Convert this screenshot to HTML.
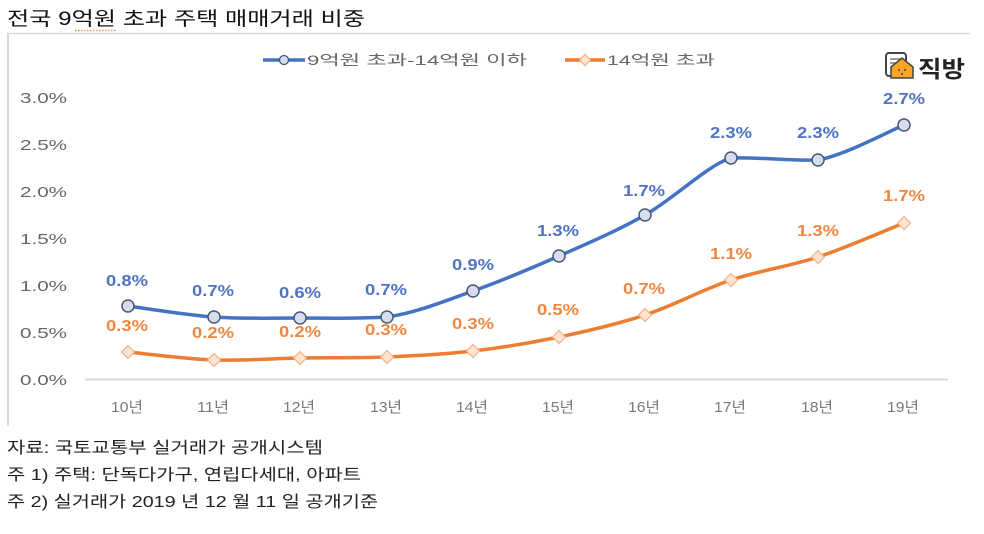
<!DOCTYPE html>
<html><head><meta charset="utf-8"><style>
html,body{margin:0;padding:0;background:#fff;}
svg{display:block;}
text{font-family:"Liberation Sans","Noto Sans CJK KR",sans-serif;}
</style></head><body>
<svg width="984" height="534" viewBox="0 0 984 534" xmlns="http://www.w3.org/2000/svg">
<rect width="984" height="534" fill="#fff"/>
<!-- title -->
<text x="7" y="25" font-size="19" fill="#111" textLength="358" lengthAdjust="spacingAndGlyphs">전국 9억원 초과 주택 매매거래 비중</text>
<line x1="75" y1="30.5" x2="117" y2="30.5" stroke="#e89a55" stroke-width="1.5" stroke-dasharray="1.5,1.5"/>
<!-- chart frame -->
<line x1="7" y1="33.5" x2="970" y2="33.5" stroke="#d9d9d9" stroke-width="1.5"/>
<line x1="8" y1="33" x2="8" y2="426" stroke="#d9d9d9" stroke-width="2"/>
<!-- legend -->
<line x1="263" y1="60" x2="305" y2="60" stroke="#4472c4" stroke-width="3.5"/>
<circle cx="284" cy="60" r="4.5" fill="#d6deee" stroke="#4a5873" stroke-width="1.3"/>
<text x="307" y="65" font-size="14" fill="#666" textLength="220" lengthAdjust="spacingAndGlyphs">9억원 초과-14억원 이하</text>
<line x1="565" y1="60" x2="605" y2="60" stroke="#ed7d31" stroke-width="3.5"/>
<polygon points="585,54.5 590.5,60 585,65.5 579.5,60" fill="#fde3d0" stroke="#f4b183" stroke-width="1.2"/>
<text x="607" y="65" font-size="14" fill="#666" textLength="108" lengthAdjust="spacingAndGlyphs">14억원 초과</text>
<!-- logo -->
<rect x="886" y="53" width="20" height="23" rx="3" fill="#fff" stroke="#444" stroke-width="2"/>
<line x1="890" y1="59" x2="900" y2="59" stroke="#666" stroke-width="1.3"/>
<line x1="890" y1="63" x2="897" y2="63" stroke="#666" stroke-width="1.3"/>
<polygon points="891,67 902,58 913,67 913,78 891,78" fill="#f6a623" stroke="#444" stroke-width="1.5"/>
<circle cx="899" cy="70" r="1" fill="#444"/><circle cx="905" cy="70" r="1" fill="#444"/>
<circle cx="902" cy="74" r="1" fill="#444"/>
<text x="918" y="77" font-size="23" font-weight="bold" fill="#222" textLength="47" lengthAdjust="spacingAndGlyphs">직방</text>
<!-- y axis labels -->
<g font-size="15" fill="#666">
<text x="20" y="103" textLength="47" lengthAdjust="spacingAndGlyphs">3.0%</text>
<text x="20" y="150" textLength="47" lengthAdjust="spacingAndGlyphs">2.5%</text>
<text x="20" y="197" textLength="47" lengthAdjust="spacingAndGlyphs">2.0%</text>
<text x="20" y="244" textLength="47" lengthAdjust="spacingAndGlyphs">1.5%</text>
<text x="20" y="291" textLength="47" lengthAdjust="spacingAndGlyphs">1.0%</text>
<text x="20" y="338" textLength="47" lengthAdjust="spacingAndGlyphs">0.5%</text>
<text x="20" y="385" textLength="47" lengthAdjust="spacingAndGlyphs">0.0%</text>
</g>
<!-- x axis -->
<line x1="85" y1="379.5" x2="948" y2="379.5" stroke="#d9d9d9" stroke-width="2"/>
<g font-size="15" fill="#7a7a7a" text-anchor="middle">
<text x="127" y="412" textLength="32" lengthAdjust="spacingAndGlyphs">10년</text>
<text x="213" y="412" textLength="32" lengthAdjust="spacingAndGlyphs">11년</text>
<text x="299" y="412" textLength="32" lengthAdjust="spacingAndGlyphs">12년</text>
<text x="386" y="412" textLength="32" lengthAdjust="spacingAndGlyphs">13년</text>
<text x="472" y="412" textLength="32" lengthAdjust="spacingAndGlyphs">14년</text>
<text x="558" y="412" textLength="32" lengthAdjust="spacingAndGlyphs">15년</text>
<text x="644" y="412" textLength="32" lengthAdjust="spacingAndGlyphs">16년</text>
<text x="730" y="412" textLength="32" lengthAdjust="spacingAndGlyphs">17년</text>
<text x="817" y="412" textLength="32" lengthAdjust="spacingAndGlyphs">18년</text>
<text x="903" y="412" textLength="32" lengthAdjust="spacingAndGlyphs">19년</text>
</g>
<!-- orange series -->
<path d="M128,352 C142.3,353.3 185.3,359 214,360 C242.7,361 271.2,358.5 300,358 C328.8,357.5 358.2,358.2 387,357 C415.8,355.8 444.3,354.3 473,351 C501.7,347.7 530.3,343 559,337 C587.7,331 616.3,324.5 645,315 C673.7,305.5 702.2,289.7 731,280 C759.8,270.3 789.2,266.5 818,257 C846.8,247.5 889.7,228.7 904,223" fill="none" stroke="#ed7d31" stroke-width="3.5" stroke-linejoin="round"/>
<g fill="#fde3d0" stroke="#f4b183" stroke-width="1.2">
<polygon points="128,345.5 134.5,352 128,358.5 121.5,352"/>
<polygon points="214,353.5 220.5,360 214,366.5 207.5,360"/>
<polygon points="300,351.5 306.5,358 300,364.5 293.5,358"/>
<polygon points="387,350.5 393.5,357 387,363.5 380.5,357"/>
<polygon points="473,344.5 479.5,351 473,357.5 466.5,351"/>
<polygon points="559,330.5 565.5,337 559,343.5 552.5,337"/>
<polygon points="645,308.5 651.5,315 645,321.5 638.5,315"/>
<polygon points="731,273.5 737.5,280 731,286.5 724.5,280"/>
<polygon points="818,250.5 824.5,257 818,263.5 811.5,257"/>
<polygon points="904,216.5 910.5,223 904,229.5 897.5,223"/>
</g>
<!-- blue series -->
<path d="M128,306 C142.3,307.8 185.3,315 214,317 C242.7,319 271.2,318 300,318 C328.8,318 358.2,319 387,317 C415.8,313 444.3,301.2 473,291 C501.7,280.8 530.3,268.7 559,256 C587.7,243.3 616.3,231.3 645,215 C673.7,198.7 708,165 731,158 C760,157 790,161 818,160 C846.8,154.5 889.7,130.8 904,125" fill="none" stroke="#4472c4" stroke-width="3.5" stroke-linejoin="round"/>
<g fill="#d6deee" stroke="#4a5873" stroke-width="1.5">
<circle cx="128" cy="306" r="6"/>
<circle cx="214" cy="317" r="6"/>
<circle cx="300" cy="318" r="6"/>
<circle cx="387" cy="317" r="6"/>
<circle cx="473" cy="291" r="6"/>
<circle cx="559" cy="256" r="6"/>
<circle cx="645" cy="215" r="6"/>
<circle cx="731" cy="158" r="6"/>
<circle cx="818" cy="160" r="6"/>
<circle cx="904" cy="125" r="6"/>
</g>
<!-- blue labels -->
<g font-size="16" font-weight="bold" fill="#4e74c2" text-anchor="middle">
<text x="127" y="286" textLength="42" lengthAdjust="spacingAndGlyphs">0.8%</text>
<text x="213" y="296" textLength="42" lengthAdjust="spacingAndGlyphs">0.7%</text>
<text x="300" y="298" textLength="42" lengthAdjust="spacingAndGlyphs">0.6%</text>
<text x="386" y="295" textLength="42" lengthAdjust="spacingAndGlyphs">0.7%</text>
<text x="473" y="270" textLength="42" lengthAdjust="spacingAndGlyphs">0.9%</text>
<text x="558" y="236" textLength="42" lengthAdjust="spacingAndGlyphs">1.3%</text>
<text x="644" y="196" textLength="42" lengthAdjust="spacingAndGlyphs">1.7%</text>
<text x="731" y="138" textLength="42" lengthAdjust="spacingAndGlyphs">2.3%</text>
<text x="818" y="138" textLength="42" lengthAdjust="spacingAndGlyphs">2.3%</text>
<text x="904" y="104" textLength="42" lengthAdjust="spacingAndGlyphs">2.7%</text>
</g>
<!-- orange labels -->
<g font-size="16" font-weight="bold" fill="#ef8642" text-anchor="middle">
<text x="127" y="331" textLength="42" lengthAdjust="spacingAndGlyphs">0.3%</text>
<text x="213" y="338" textLength="42" lengthAdjust="spacingAndGlyphs">0.2%</text>
<text x="300" y="337" textLength="42" lengthAdjust="spacingAndGlyphs">0.2%</text>
<text x="386" y="335" textLength="42" lengthAdjust="spacingAndGlyphs">0.3%</text>
<text x="473" y="329" textLength="42" lengthAdjust="spacingAndGlyphs">0.3%</text>
<text x="558" y="315" textLength="42" lengthAdjust="spacingAndGlyphs">0.5%</text>
<text x="644" y="294" textLength="42" lengthAdjust="spacingAndGlyphs">0.7%</text>
<text x="731" y="259" textLength="42" lengthAdjust="spacingAndGlyphs">1.1%</text>
<text x="818" y="236" textLength="42" lengthAdjust="spacingAndGlyphs">1.3%</text>
<text x="904" y="201" textLength="42" lengthAdjust="spacingAndGlyphs">1.7%</text>
</g>
<!-- footnotes -->
<g font-size="16" fill="#222">
<text x="7" y="453" textLength="316" lengthAdjust="spacingAndGlyphs">자료: 국토교통부 실거래가 공개시스템</text>
<text x="7" y="480" textLength="354" lengthAdjust="spacingAndGlyphs">주 1) 주택: 단독다가구, 연립다세대, 아파트</text>
<text x="7" y="507" textLength="371" lengthAdjust="spacingAndGlyphs">주 2) 실거래가 2019 년 12 월 11 일 공개기준</text>
</g>
</svg>
</body></html>
